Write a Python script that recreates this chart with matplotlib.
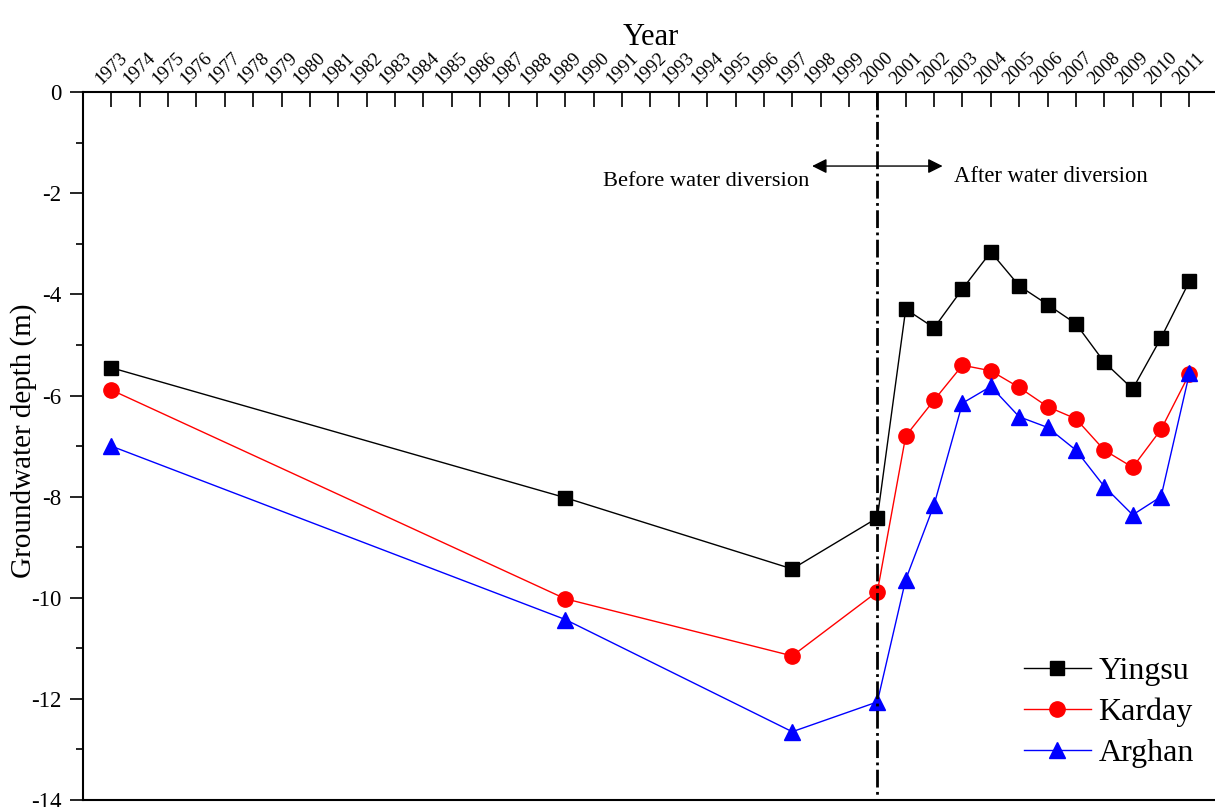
import numpy as np
import matplotlib.pyplot as plt

plt.rcParams['font.family'] = ['Liberation Serif', 'DejaVu Serif']
plt.rcParams['axes.unicode_minus'] = False

years = [1973, 1989, 1997, 2000, 2001, 2002, 2003, 2004, 2005, 2006,
         2007, 2008, 2009, 2010, 2011]
yingsu = [-5.45, -8.02, -9.43, -8.42, -4.29, -4.66, -3.89, -3.16, -3.83,
          -4.20, -4.58, -5.34, -5.87, -4.86, -3.74]
karday = [-5.89, -10.02, -11.15, -9.88, -6.80, -6.09, -5.40, -5.51, -5.84,
          -6.22, -6.46, -7.08, -7.42, -6.67, -5.57]
arghan = [-7.00, -10.43, -12.65, -12.06, -9.64, -8.16, -6.15, -5.82, -6.42,
          -6.63, -7.08, -7.80, -8.36, -8.00, -5.56]
tick_years = list(range(1973, 2012))


def main():
    fig = plt.figure(figsize=(12.15, 8.07), dpi=100)
    ax = fig.add_axes([0.0683, 0.0087, 0.934, 0.877])

    ax.plot(years, yingsu, '-s', color='black', lw=1, ms=10, label='Yingsu')
    ax.plot(years, karday, '-o', color='red', lw=1, ms=11, label='Karday')
    ax.plot(years, arghan, '-^', color='blue', lw=1, ms=12, label='Arghan')

    ax.plot([2000, 2000], [0, -14], color='black', ls='-.', lw=2)
    ax.annotate('', xy=(1997.7, -1.46), xytext=(2000, -1.46),
                arrowprops=dict(arrowstyle='-|>', color='black', lw=1,
                                mutation_scale=22, shrinkA=0, shrinkB=0))
    ax.annotate('', xy=(2002.3, -1.46), xytext=(2000, -1.46),
                arrowprops=dict(arrowstyle='-|>', color='black', lw=1,
                                mutation_scale=22, shrinkA=0, shrinkB=0))
    ax.text(1993.95, -1.76, 'Before water diversion', fontsize=16.2,
            ha='center', va='center')
    ax.text(2006.1, -1.66, 'After water diversion', fontsize=16.3,
            ha='center', va='center')

    ax.set_xlim(1972, 2012)
    ax.set_ylim(-14, 0)
    ax.xaxis.tick_top()
    ax.xaxis.set_label_position('top')
    ax.set_xticks(tick_years)
    ax.set_xticklabels([str(y) for y in tick_years], rotation=45,
                       ha='center', va='bottom', fontsize=13.5)
    ax.tick_params(axis='x', direction='in', length=11, width=1.2, pad=3)
    ax.set_xlabel('Year', fontsize=22, labelpad=3)

    ax.set_yticks(np.arange(-14, 1, 2))
    ax.set_yticks(np.arange(-13, 0, 2), minor=True)
    ax.tick_params(axis='y', which='major', direction='out', length=9.5,
                   width=1.2, labelsize=16.5, pad=6)
    ax.tick_params(axis='y', which='minor', direction='out', length=5,
                   width=1.2)
    ax.set_ylabel('Groundwater depth (m)', fontsize=21)
    ax.yaxis.set_label_coords(-0.0405, 0.508)

    for s in ['left', 'top', 'bottom']:
        ax.spines[s].set_linewidth(1.5)
    ax.spines['right'].set_visible(False)

    ax.legend(loc='lower right', frameon=False, fontsize=23,
              handlelength=2.1, handletextpad=0.25, labelspacing=0.36,
              borderpad=0, borderaxespad=0, bbox_to_anchor=(0.979, 0.045))

    fig.savefig('out.png', dpi=100)


if __name__ == "__main__":
    main()
